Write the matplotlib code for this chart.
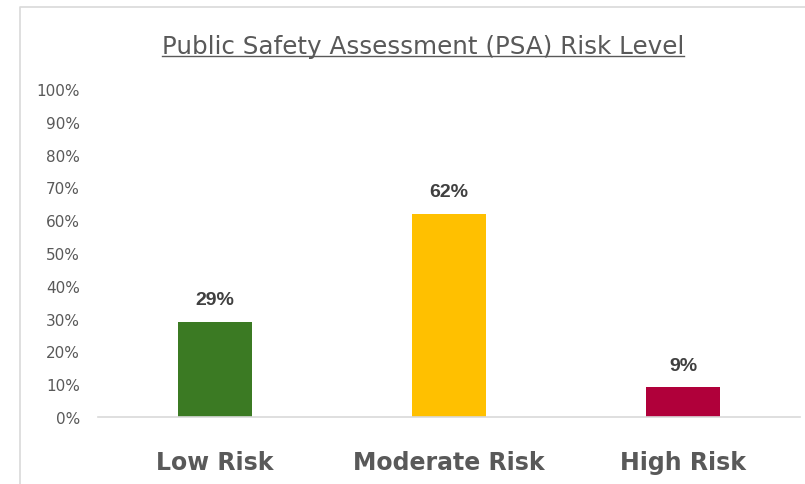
import matplotlib.pyplot as plt
from matplotlib.lines import Line2D
from matplotlib.ticker import PercentFormatter

# Dados do grafico ====================================================
categorias = ['Low Risk', 'Moderate Risk', 'High Risk']
valores = [0.29, 0.62, 0.09]
cores = ['#3b7a23', '#ffc000', '#b0003a']
titulo = 'Public Safety Assessment (PSA) Risk Level'

plt.rcParams['font.family'] = ['DejaVu Sans']

fig = plt.figure(figsize=(8.05, 4.85), dpi=100)
ax = fig.add_axes([98/805, 1 - 418/485, 702/805, 328/485])

x = range(len(categorias))
ax.bar(x, valores, width=0.315, color=cores)

for i, v in enumerate(valores):
    ax.annotate(f'{v:.0%}', (i, v), xytext=(0, 10), textcoords='offset points',
                ha='center', va='bottom', fontsize=14, fontweight='bold',
                color='#404040', family=['Liberation Sans', 'DejaVu Sans'])

ax.set_xlim(-0.5, 2.5)
ax.set_ylim(0, 1.0)
ax.set_yticks([i / 10 for i in range(11)])
ax.yaxis.set_major_formatter(PercentFormatter(1.0, decimals=0))
ax.set_xticks(list(x))
ax.set_xticklabels(categorias, fontsize=17, fontweight='bold', color='#595959')
ax.tick_params(axis='y', length=0, labelsize=11, labelcolor='#595959', pad=13)
ax.tick_params(axis='x', length=0, pad=24)

for s in ['top', 'right', 'left']:
    ax.spines[s].set_visible(False)
ax.spines['bottom'].set_color('#d9d9d9')
ax.spines['bottom'].set_linewidth(1.2)

# Titulo sublinhado ===================================================
t = fig.text(423/805, 1 - 47/485, titulo, ha='center', va='center',
             fontsize=17.7, color='#595959')
fig.canvas.draw()
bb = t.get_window_extent().transformed(fig.transFigure.inverted())
fig.add_artist(Line2D([bb.x0, bb.x1], [bb.y0 + 0.004, bb.y0 + 0.004],
                      color='#595959', linewidth=1.0, transform=fig.transFigure))

# Borda do grafico ====================================================
fig.add_artist(Line2D([20/805, 20/805, 1.0], [0.0, 1 - 8/485, 1 - 8/485],
                      color='#d9d9d9', linewidth=1.2, transform=fig.transFigure))

plt.savefig('out.png', dpi=100)
